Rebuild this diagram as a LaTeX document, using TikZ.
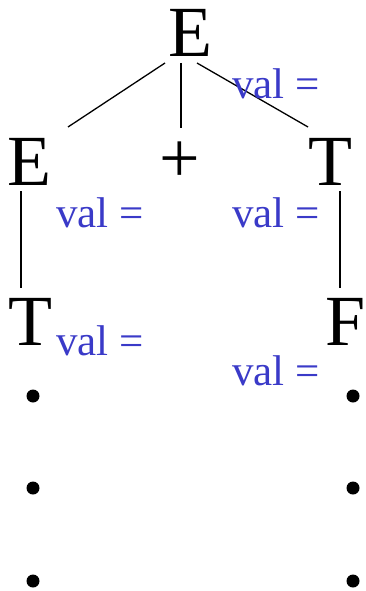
\documentclass[tikz,border=0pt]{standalone}
\usepackage{fontspec}
\setmainfont{Liberation Serif}
\definecolor{valblue}{RGB}{58,58,200}
\begin{document}
\begin{tikzpicture}[x=1pt,y=-1pt,
  sym/.style={font=\fontsize{72}{80}\selectfont, inner sep=0pt, anchor=base},
  val/.style={font=\fontsize{43}{50}\selectfont, text=valblue, inner sep=0pt, anchor=base west},
  dot/.style={circle, fill=black, inner sep=0pt, minimum size=13pt},
  edge/.style={line width=1.3pt, black}]
\useasboundingbox (0,0) rectangle (365,591);
% symbols
\node[sym] (Etop) at (190,57) {E};
\node[sym] (Eleft) at (29,185) {E};
\node[font=\fontsize{72}{80}\selectfont, inner sep=0pt] (plus) at (180,162) {+};
\node[sym] (Tright) at (330,185) {T};
\node[sym] (Tleft) at (30,345) {T};
\node[sym] (F) at (346,345) {F};
% edges
\draw[edge] ([shift={(-25,6)}]Etop.base) -- ([shift={(39,-58)}]Eleft.base);
\draw[edge] ([shift={(-9,6)}]Etop.base) -- ([shift={(1,-34)}]plus.center);
\draw[edge] ([shift={(7,6)}]Etop.base) -- ([shift={(-22,-58)}]Tright.base);
\draw[edge] ([shift={(-8,6)}]Eleft.base) -- ([shift={(-9,-57)}]Tleft.base);
\draw[edge] ([shift={(10,6)}]Tright.base) -- ([shift={(-6,-57)}]F.base);
% labels
\node[val] (v1) at (232,99) {val =};
\node[val] (v2) at (56,227) {val =};
\node[val] (v3) at (232,227) {val =};
\node[val] (v4) at (56,355) {val =};
\node[val] (v5) at (232,385) {val =};
% dots
\node[dot] (d1) at (33,396) {};
\node[dot] (d2) at (33,488) {};
\node[dot] (d3) at (33,581) {};
\node[dot] (d4) at (353,396) {};
\node[dot] (d5) at (353,488) {};
\node[dot] (d6) at (353,581) {};
\end{tikzpicture}
\end{document}
